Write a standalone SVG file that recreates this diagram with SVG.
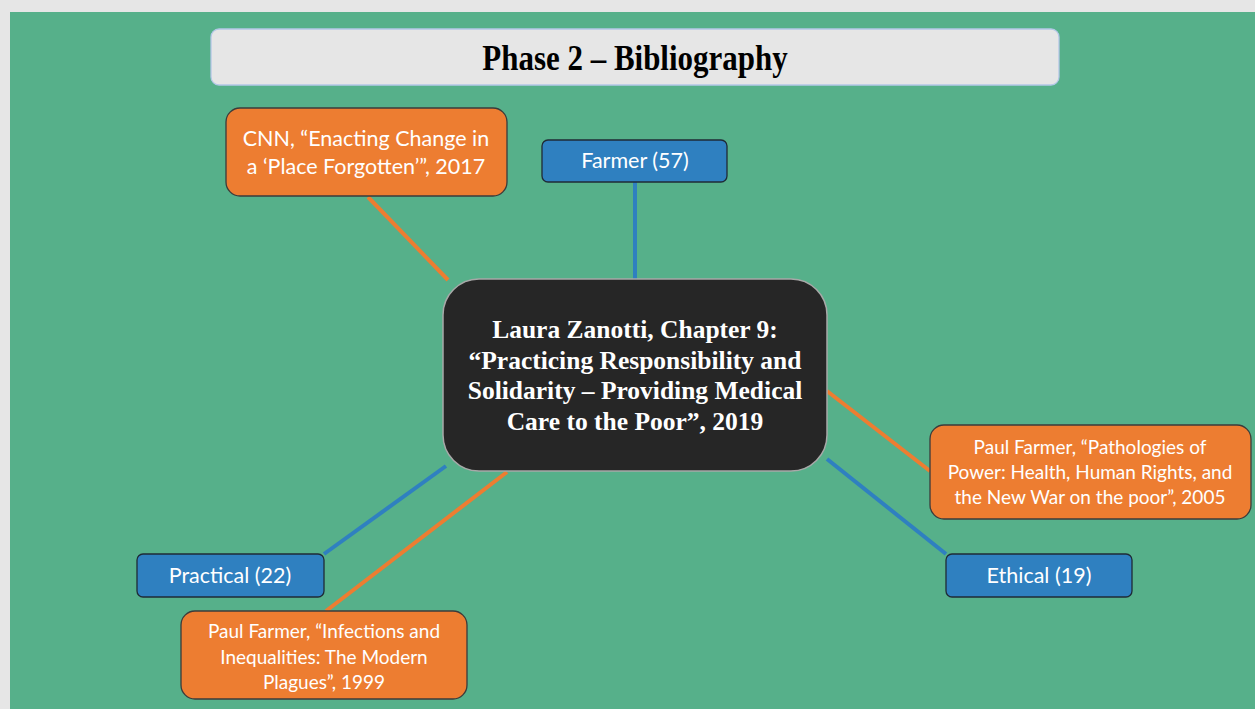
<svg xmlns="http://www.w3.org/2000/svg" width="1255" height="709" viewBox="0 0 1255 709">
  <style>
    .cite { fill: #ed7d31; stroke: #3b3b3b; stroke-width: 1.3; }
    .tag { fill: #2f80c0; stroke: #1f2a36; stroke-width: 1.3; }
    .sans { font-family: Lato, "Liberation Sans", sans-serif; fill: #ffffff; text-anchor: middle; }
    .serif { font-family: "Liberation Serif", serif; font-weight: bold; text-anchor: middle; }
    .link-o { stroke: #ed7d31; stroke-width: 4; fill: none; }
    .link-b { stroke: #2f80c0; stroke-width: 4; fill: none; }
  </style>

  <!-- backdrop -->
  <rect x="0" y="0" width="1255" height="709" fill="#e6e6e6"/>
  <rect x="10" y="12" width="1245" height="697" fill="#56b08a"/>

  <!-- connectors -->
  <g id="connectors">
    <line class="link-o" x1="368" y1="197" x2="448" y2="280"/>
    <line class="link-b" x1="635" y1="182" x2="635" y2="279"/>
    <line class="link-o" x1="827" y1="391" x2="930" y2="471"/>
    <line class="link-b" x1="827" y1="459" x2="946" y2="554"/>
    <line class="link-b" x1="446" y1="466" x2="324" y2="554"/>
    <line class="link-o" x1="507" y1="472" x2="326" y2="611"/>
  </g>

  <!-- title banner -->
  <g id="title">
    <rect x="211" y="29" width="848" height="56" rx="8" fill="#e6e6e6" stroke="#b4c7e7" stroke-width="1.3"/>
    <text class="serif" transform="translate(635 70) scale(0.86 1)" x="0" y="0" font-size="36" fill="#000000">Phase 2 – Bibliography</text>
  </g>

  <g id="cnn">
    <rect class="cite" x="226" y="108" width="281" height="88" rx="14"/>
    <text class="sans" x="366" y="146" font-size="21.5">CNN, “Enacting Change in</text>
    <text class="sans" x="366" y="174" font-size="21.5">a ‘Place Forgotten’”, 2017</text>
  </g>

  <g id="farmer">
    <rect class="tag" x="542" y="140" width="185" height="42" rx="6"/>
    <text class="sans" x="635" y="168" font-size="21.5">Farmer (57)</text>
  </g>

  <g id="zanotti">
    <rect x="443" y="279" width="384" height="192" rx="36" fill="#262626" stroke="#a8a8a8" stroke-width="1.5"/>
    <text class="serif" x="635" y="338" font-size="25.5" fill="#ffffff">Laura Zanotti, Chapter 9:</text>
    <text class="serif" x="635" y="369" font-size="25.5" fill="#ffffff">“Practicing Responsibility and</text>
    <text class="serif" x="635" y="399" font-size="25.5" fill="#ffffff">Solidarity – Providing Medical</text>
    <text class="serif" x="635" y="430" font-size="25.5" fill="#ffffff">Care to the Poor”, 2019</text>
  </g>

  <g id="pathologies">
    <rect class="cite" x="930" y="425" width="321" height="94" rx="14"/>
    <text class="sans" x="1090" y="454" font-size="19">Paul Farmer, “Pathologies of</text>
    <text class="sans" x="1090" y="479" font-size="19">Power: Health, Human Rights, and</text>
    <text class="sans" x="1090" y="504" font-size="19">the New War on the poor”, 2005</text>
  </g>

  <g id="practical">
    <rect class="tag" x="137" y="554" width="187" height="43" rx="6"/>
    <text class="sans" x="230" y="583" font-size="21.5">Practical (22)</text>
  </g>

  <g id="ethical">
    <rect class="tag" x="946" y="554" width="186" height="43" rx="6"/>
    <text class="sans" x="1039" y="583" font-size="21.5">Ethical (19)</text>
  </g>

  <g id="infections">
    <rect class="cite" x="181" y="611" width="286" height="88" rx="14"/>
    <text class="sans" x="324" y="638" font-size="19">Paul Farmer, “Infections and</text>
    <text class="sans" x="324" y="664" font-size="19">Inequalities: The Modern</text>
    <text class="sans" x="324" y="689" font-size="19">Plagues”, 1999</text>
  </g>
</svg>
